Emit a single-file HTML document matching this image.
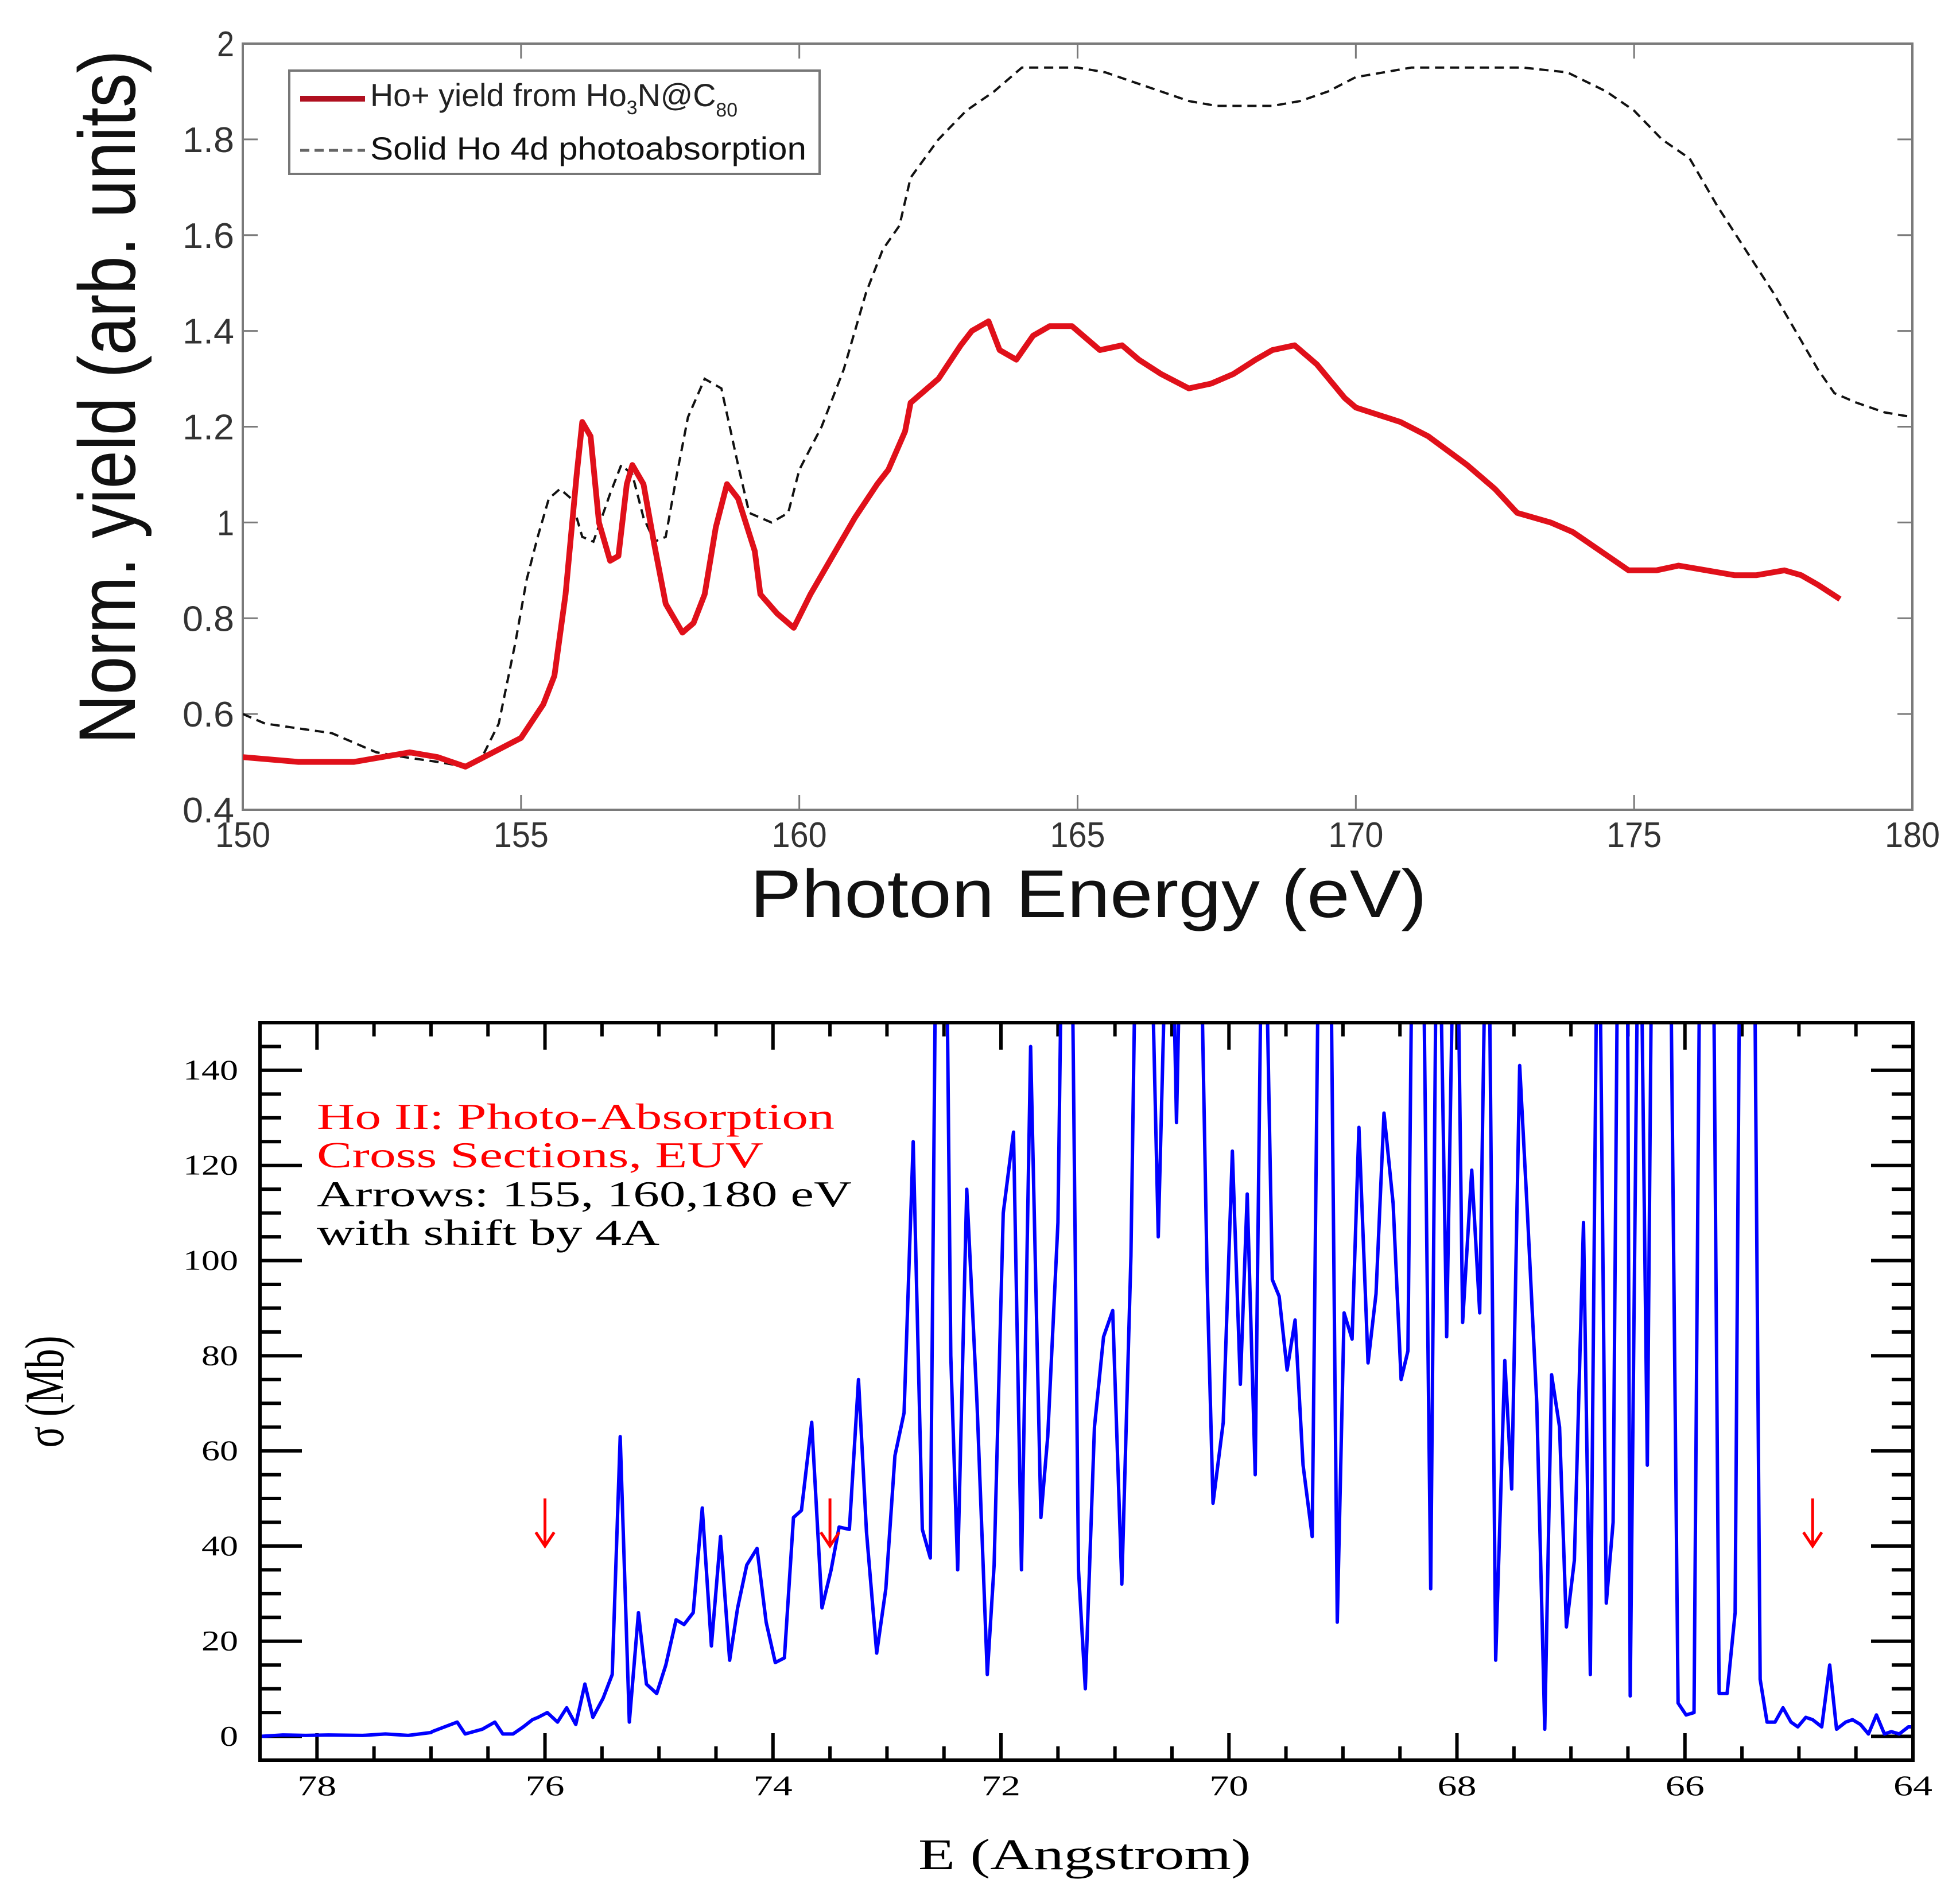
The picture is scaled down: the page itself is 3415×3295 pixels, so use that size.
<!DOCTYPE html>
<html><head><meta charset="utf-8"><style>
html,body{margin:0;padding:0;background:#fff;}
svg{display:block;}
</style></head><body>
<svg id="fig" width="3415" height="3295" viewBox="0 0 3415 3295" xmlns="http://www.w3.org/2000/svg">
<defs>
<clipPath id="clipTop"><rect x="423" y="76" width="2909" height="1335"/></clipPath>
<clipPath id="clipBot"><rect x="453" y="1782" width="2880" height="1285"/></clipPath>
</defs>
<rect x="0" y="0" width="3415" height="3295" fill="#fff"/>
<g id="topAxes"></g>
<g id="botAxes"></g>

<text x="235" y="692" transform="rotate(-90 235 692)" text-anchor="middle" font-family="Liberation Sans, sans-serif" font-size="140" fill="#111" textLength="1209" lengthAdjust="spacingAndGlyphs">Norm. yield (arb. units)</text>
<text x="1307" y="1598" font-family="Liberation Sans, sans-serif" font-size="118" fill="#111" textLength="1179" lengthAdjust="spacingAndGlyphs">Photon Energy (eV)</text>

<g>
<rect x="504" y="123" width="924" height="180" fill="#fff" stroke="#777" stroke-width="4"/>
<line x1="523" y1="172" x2="636" y2="172" stroke="#b01020" stroke-width="10"/>
<text x="645" y="185" font-family="Liberation Sans, sans-serif" font-size="56" fill="#222" textLength="640" lengthAdjust="spacingAndGlyphs">Ho+ yield from Ho<tspan font-size="34" dy="14">3</tspan><tspan dy="-14">N@C</tspan><tspan font-size="34" dy="18">80</tspan></text>
<line x1="523" y1="262" x2="636" y2="262" stroke="#666" stroke-width="5" stroke-dasharray="16 9"/>
<text x="645" y="278" font-family="Liberation Sans, sans-serif" font-size="56" fill="#111" textLength="760" lengthAdjust="spacingAndGlyphs">Solid Ho 4d photoabsorption</text>
</g>

<g>
<text x="552" y="1967" font-family="Liberation Serif, serif" font-size="64" fill="#ff0000" textLength="902" lengthAdjust="spacingAndGlyphs">Ho II: Photo-Absorption</text>
<text x="552" y="2034" font-family="Liberation Serif, serif" font-size="64" fill="#ff0000" textLength="778" lengthAdjust="spacingAndGlyphs">Cross Sections, EUV</text>
<text x="552" y="2102" font-family="Liberation Serif, serif" font-size="64" fill="#000" textLength="932" lengthAdjust="spacingAndGlyphs">Arrows: 155, 160,180 eV</text>
<text x="552" y="2169" font-family="Liberation Serif, serif" font-size="64" fill="#000" textLength="597" lengthAdjust="spacingAndGlyphs">with shift by 4A</text>
</g>
<text x="110" y="2425" transform="rotate(-90 110 2425)" text-anchor="middle" font-family="Liberation Serif, serif" font-size="96" fill="#000" textLength="195" lengthAdjust="spacingAndGlyphs">σ (Mb)</text>
<text x="1890" y="3257" text-anchor="middle" font-family="Liberation Serif, serif" font-size="76" fill="#000" textLength="580" lengthAdjust="spacingAndGlyphs">E (Angstrom)</text>
</svg>
<script>
const topXTicks = [150,155,160,165,170,175,180];
const topXTickLabels = ["150","155","160","165","170","175","180"];
const topYTicks = [0.4,0.6,0.8,1.0,1.2,1.4,1.6,1.8,2.0];
const topYTickLabels = ["0.4","0.6","0.8","1","1.2","1.4","1.6","1.8","2"];
const redX = [150,151,152,153,153.5,154,154.5,155,155.4,155.6,155.8,156.0,156.1,156.25,156.4,156.6,156.75,156.9,157.0,157.2,157.4,157.6,157.9,158.1,158.3,158.5,158.7,158.9,159.2,159.3,159.6,159.9,160.2,160.6,161.0,161.4,161.6,161.9,162.0,162.5,162.9,163.1,163.4,163.6,163.9,164.2,164.5,164.9,165.2,165.4,165.8,166.1,166.5,167.0,167.4,167.8,168.2,168.5,168.9,169.3,169.8,170.0,170.8,171.3,172.0,172.5,172.9,173.5,173.9,174.4,174.9,175.4,175.8,176.3,176.8,177.2,177.7,178.0,178.3,178.7];
const redY = [0.51,0.50,0.50,0.52,0.51,0.49,0.52,0.55,0.62,0.68,0.85,1.10,1.21,1.18,1.00,0.92,0.93,1.08,1.12,1.08,0.95,0.83,0.77,0.79,0.85,0.99,1.08,1.05,0.94,0.85,0.81,0.78,0.85,0.93,1.01,1.08,1.11,1.19,1.25,1.30,1.37,1.40,1.42,1.36,1.34,1.39,1.41,1.41,1.38,1.36,1.37,1.34,1.31,1.28,1.29,1.31,1.34,1.36,1.37,1.33,1.26,1.24,1.21,1.18,1.12,1.07,1.02,1.00,0.98,0.94,0.90,0.90,0.91,0.90,0.89,0.89,0.90,0.89,0.87,0.84];
const blackX = [150,150.4,151,151.6,152.0,152.4,152.9,153.5,154.0,154.3,154.6,154.9,155.1,155.3,155.5,155.7,155.9,156.1,156.3,156.6,156.8,157.0,157.2,157.4,157.6,157.8,158.0,158.3,158.6,158.9,159.1,159.5,159.8,160.0,160.4,160.8,161.2,161.5,161.8,162.0,162.5,163.0,163.5,164.0,164.5,165.0,165.5,166.0,166.5,167.0,167.5,168.0,168.5,169.0,169.5,170.0,170.5,171.0,172.0,173.0,173.8,174.5,175.0,175.5,176.0,176.5,177.0,177.5,178.0,178.3,178.6,179.0,179.5,180];
const blackY = [0.60,0.58,0.57,0.56,0.54,0.52,0.51,0.50,0.49,0.51,0.58,0.75,0.88,0.97,1.05,1.07,1.05,0.97,0.96,1.06,1.12,1.10,1.01,0.96,0.97,1.10,1.22,1.30,1.28,1.12,1.02,1.00,1.02,1.11,1.20,1.32,1.48,1.57,1.62,1.72,1.80,1.86,1.90,1.95,1.95,1.95,1.94,1.92,1.90,1.88,1.87,1.87,1.87,1.88,1.90,1.93,1.94,1.95,1.95,1.95,1.94,1.90,1.86,1.80,1.76,1.66,1.57,1.48,1.38,1.32,1.27,1.25,1.23,1.22];

const botXTicks = [78,76,74,72,70,68,66,64];
const botXTickLabels = ["78","76","74","72","70","68","66","64"];
const botYTicks = [0,20,40,60,80,100,120,140];
const botYTickLabels = ["0","20","40","60","80","100","120","140"];
const arrowWavelengths = [76.0,73.5,64.88];
const blueX = [78.49,78.3,78.1,77.9,77.6,77.4,77.2,77.0,76.99,76.77,76.70,76.55,76.44,76.37,76.28,76.19,76.11,76.06,75.98,75.89,75.81,75.73,75.65,75.58,75.49,75.41,75.34,75.26,75.18,75.11,75.02,74.94,74.85,74.78,74.70,74.62,74.54,74.46,74.38,74.31,74.23,74.14,74.06,73.98,73.90,73.82,73.75,73.66,73.57,73.49,73.42,73.33,73.25,73.18,73.09,73.01,72.93,72.85,72.77,72.69,72.62,72.56,72.49,72.44,72.38,72.30,72.21,72.12,72.06,71.98,71.89,71.82,71.74,71.65,71.59,71.50,71.45,71.39,71.32,71.26,71.18,71.10,71.02,70.94,70.86,70.80,70.71,70.62,70.52,70.46,70.40,70.27,70.19,70.14,70.05,69.97,69.90,69.84,69.77,69.70,69.62,69.56,69.49,69.42,69.35,69.27,69.20,69.12,69.05,68.99,68.92,68.86,68.78,68.71,68.64,68.56,68.49,68.43,68.38,68.31,68.23,68.17,68.09,68.01,67.95,67.87,67.80,67.73,67.66,67.58,67.52,67.45,67.38,67.30,67.23,67.17,67.10,67.04,66.97,66.89,66.83,66.76,66.69,66.63,66.58,66.51,66.48,66.40,66.33,66.28,66.14,66.06,65.99,65.92,65.86,65.76,65.70,65.63,65.56,65.51,65.40,65.34,65.28,65.21,65.14,65.07,65.01,64.94,64.88,64.80,64.73,64.67,64.59,64.53,64.46,64.39,64.32,64.25,64.19,64.12,64.04,64.00];
const blueY = [0,0.3,0.2,0.3,0.2,0.5,0.2,0.8,1,3,0.5,1.5,3,0.5,0.5,2,3.5,4,5,3,6,2.5,11,4,8,13,63,3,26,11,9,15,24.5,23.5,26,48,19,42,16,27,36,39.5,24,15.5,16.5,46,47.5,66,27,35,44,43.5,75,43,17.5,31,59,68,125,43.5,37.5,200,200,80,35,115,70,13,36,110,127,35,145,46,63,108,200,200,35,10,65,84,89.5,32,101,200,200,105,200,129,200,200,95,49,66,123,74,114,55,200,96,92.5,77,87.5,57,42,200,200,24,89,83.5,128,78.5,93,131,112,75,81,200,200,31,200,84,200,87,119,89,200,16,79,52,141,109,70,1.5,76,65,23,37,108,13,200,28,45,200,200,8.5,200,57,200,200,7,4.5,5,200,200,9,9,26,200,200,12,3,3,6,3,2,4,3.5,2,15,1.5,3,3.5,2.5,0.5,4.5,0.5,1,0.5,2,2];

const NS = "http://www.w3.org/2000/svg";
function mk(tag, attrs, parent){ const e=document.createElementNS(NS,tag); for(const k in attrs) e.setAttribute(k,attrs[k]); parent.appendChild(e); return e; }

const TL=423,TR=3332,TT=76,TB=1411;
function tx(v){ return TL+(v-150)/30*(TR-TL); }
function ty(v){ return TB-(v-0.4)/1.6*(TB-TT); }
const gt=document.getElementById('topAxes');
let fr=mk('rect',{x:TL,y:TT,width:TR-TL,height:TB-TT,fill:'none',stroke:'#7a7a7a','stroke-width':4},gt);


topXTicks.forEach((v,i)=>{
  const x=tx(v);
  let a=mk('line',{x1:x,y1:TB,x2:x,y2:TB-26,stroke:'#7a7a7a','stroke-width':3},gt);
  
  
  let b=mk('line',{x1:x,y1:TT,x2:x,y2:TT+26,stroke:'#7a7a7a','stroke-width':3},gt);
  
  
  let t=mk('text',{x:x,y:1476,'text-anchor':'middle','font-family':'Liberation Sans, sans-serif','font-size':62,fill:'#333',textLength:96,lengthAdjust:'spacingAndGlyphs'},gt);
  t.textContent=topXTickLabels[i];
  
  
});
topYTicks.forEach((v,i)=>{
  const y=ty(v);
  let a=mk('line',{x1:TL,y1:y,x2:TL+26,y2:y,stroke:'#7a7a7a','stroke-width':3},gt);
  
  
  let b=mk('line',{x1:TR,y1:y,x2:TR-26,y2:y,stroke:'#7a7a7a','stroke-width':3},gt);
  
  
  const lab=topYTickLabels[i];
  let t=mk('text',{x:408,y:y+22,'text-anchor':'end','font-family':'Liberation Sans, sans-serif','font-size':62,fill:'#333',textLength:lab.length*30,lengthAdjust:'spacingAndGlyphs'},gt);
  t.textContent=lab;
  
  
});
let dBlack=blackX.map((v,i)=>(i?'L':'M')+tx(v).toFixed(1)+' '+ty(blackY[i]).toFixed(1)).join(' ');
let pb=mk('path',{d:dBlack,fill:'none',stroke:'#111','stroke-width':4,'stroke-dasharray':'16 10','clip-path':'url(#clipTop)'},gt);


let dRed=redX.map((v,i)=>(i?'L':'M')+tx(v).toFixed(1)+' '+ty(redY[i]).toFixed(1)).join(' ');
let pr=mk('path',{d:dRed,fill:'none',stroke:'#e0101a','stroke-width':10,'stroke-linejoin':'round','clip-path':'url(#clipTop)'},gt);



const BL=453,BR=3333,BT=1782,BB=3067;
function bx(v){ return BL+(78.5-v)/14.5*(BR-BL); }
function by(v){ return BB-(v+5)/155*(BB-BT); }
const gb=document.getElementById('botAxes');
for(let v=78.5; v>=64-1e-9; v-=0.5){
  const x=bx(v); const major=Math.abs(v/2-Math.round(v/2))<1e-6;
  const L=major?47:24;
  let a=mk('line',{x1:x,y1:BT,x2:x,y2:BT+L,stroke:'#000','stroke-width':6},gb);
  
  
  let b=mk('line',{x1:x,y1:BB,x2:x,y2:BB-L,stroke:'#000','stroke-width':6},gb);
  
  
}
for(let v=-5; v<=150; v+=5){
  const y=by(v); const major=(v%20===0);
  const L=major?73:37;
  let a=mk('line',{x1:BL,y1:y,x2:BL+L,y2:y,stroke:'#000','stroke-width':6},gb);
  
  
  let b=mk('line',{x1:BR,y1:y,x2:BR-L,y2:y,stroke:'#000','stroke-width':6},gb);
  
  
}
botXTicks.forEach((v,i)=>{
  let t=mk('text',{x:bx(v),y:3128,'text-anchor':'middle','font-family':'Liberation Serif, serif','font-size':50,fill:'#000',textLength:botXTickLabels[i].length*34,lengthAdjust:'spacingAndGlyphs'},gb);
  t.textContent=botXTickLabels[i];
  
  
});
botYTicks.forEach((v,i)=>{
  let t=mk('text',{x:415,y:by(v)+16,'text-anchor':'end','font-family':'Liberation Serif, serif','font-size':50,fill:'#000',textLength:botYTickLabels[i].length*32,lengthAdjust:'spacingAndGlyphs'},gb);
  t.textContent=botYTickLabels[i];
  
  
});
let dBlue=blueX.map((v,i)=>(i?'L':'M')+bx(v).toFixed(1)+' '+by(blueY[i]).toFixed(1)).join(' ');
let pl=mk('path',{d:dBlue,fill:'none',stroke:'#0000ff','stroke-width':6,'stroke-linejoin':'round','clip-path':'url(#clipBot)'},gb);


arrowWavelengths.forEach(w=>{
  const x=bx(w), y0=by(50), y1=by(40);
  let a=mk('path',{d:`M${x} ${y0} L${x} ${y1} M${x-16} ${y1-24} L${x} ${y1} L${x+16} ${y1-24}`,fill:'none',stroke:'#ff0000','stroke-width':5},gb);
  
  
});
let fb=mk('rect',{x:BL,y:BT,width:BR-BL,height:BB-BT,fill:'none',stroke:'#000','stroke-width':6},gb);


</script>
</body></html>
